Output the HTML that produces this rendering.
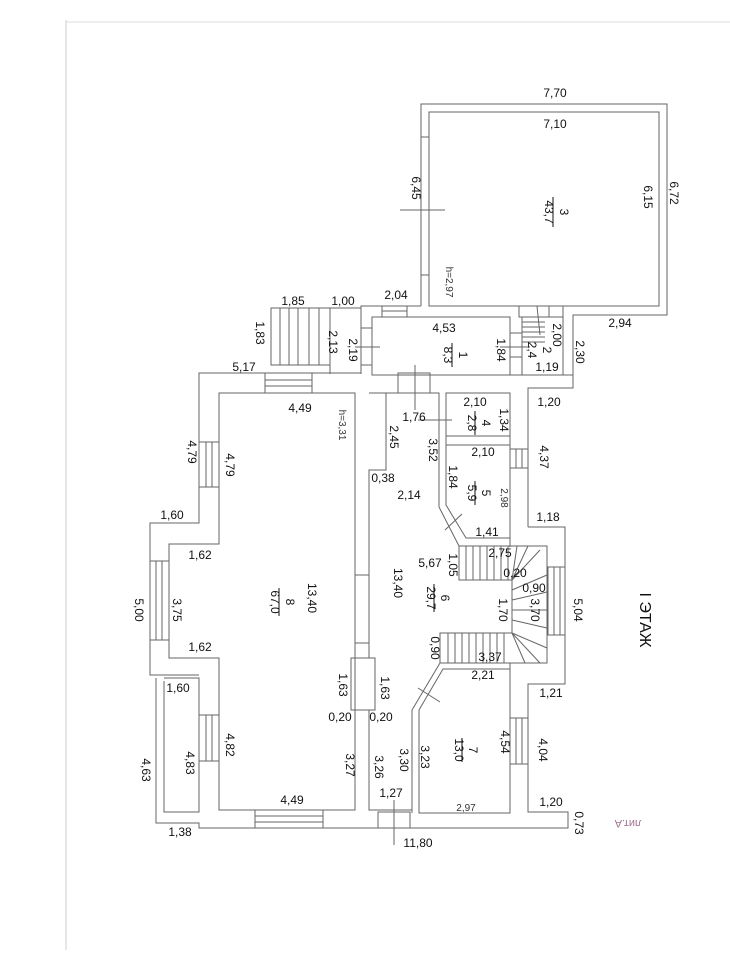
<!DOCTYPE html>
<html><head><meta charset="utf-8"><style>
html,body{margin:0;padding:0;background:#fff;}
svg{display:block;}
text{font-family:"Liberation Sans",sans-serif;font-size:12px;fill:#111;}
.s{font-size:10px;fill:#333;}
</style></head><body>
<svg width="730" height="960" viewBox="0 0 730 960" xmlns="http://www.w3.org/2000/svg">
<g fill="none" stroke="#666" stroke-width="1">
<line x1="66" y1="20" x2="66" y2="950" stroke="#ccc"/>
<line x1="66" y1="22" x2="730" y2="22" stroke="#ddd"/>
<!-- room 3 -->
<path d="M421,306 L421,104 L667,104 L667,315 L573,315 L573,388 L528,388 L528,527"/>
<rect x="429" y="112" width="230" height="194"/>
<line x1="421" y1="137" x2="429" y2="137"/><line x1="421" y1="275" x2="429" y2="275"/>
<line x1="400" y1="210" x2="445" y2="210"/>
<!-- block -->
<path d="M361,374 L361,306 L421,306"/>
<rect x="372" y="317" width="138" height="58"/>
<rect x="522" y="317" width="41" height="58"/>
<line x1="510" y1="375" x2="573" y2="375"/>
<line x1="563" y1="306" x2="563" y2="375"/>
<line x1="429" y1="306" x2="522" y2="306"/>
<rect x="382" y="306" width="25" height="11"/><line x1="382" y1="311" x2="407" y2="311"/>
<rect x="361" y="328" width="11" height="37"/><line x1="355" y1="347" x2="380" y2="347"/>
<rect x="510" y="333" width="12" height="24"/><line x1="500" y1="347" x2="530" y2="347"/>
<rect x="519" y="306" width="30" height="11"/>
<line x1="522" y1="322" x2="545" y2="322"/><line x1="522" y1="327" x2="545" y2="327"/><line x1="522" y1="332" x2="545" y2="332"/><line x1="522" y1="337" x2="545" y2="337"/><line x1="522" y1="342" x2="545" y2="342"/>
<line x1="537" y1="306" x2="540" y2="335"/>
<!-- porch -->
<rect x="271" y="308" width="59" height="57"/>
<line x1="280" y1="308" x2="280" y2="365"/><line x1="289" y1="308" x2="289" y2="365"/><line x1="298" y1="308" x2="298" y2="365"/><line x1="309" y1="308" x2="309" y2="365"/><line x1="319" y1="308" x2="319" y2="365"/>
<path d="M330,308 L361,308 M330,365 L330,374"/>
<!-- main outer -->
<path d="M361,373 L199,373 L199,523 L150,523 L150,675 L199,675"/>
<path d="M156,678 L156,823 L199,823 L199,828 L568,828 L568,812 L528,812 L528,684 L565,684 L565,527 L528,527"/>
<path d="M164,681 L164,812 L199,812 L199,678 L164,678"/>
<rect x="265" y="373" width="47" height="20"/><line x1="265" y1="380" x2="312" y2="380"/><line x1="265" y1="386" x2="312" y2="386"/>
<rect x="398" y="373" width="32" height="20"/><line x1="415" y1="365" x2="415" y2="410"/>
<!-- room 8 -->
<path d="M219,393 L355,393 L355,810 L219,810 L219,658 L169,658 L169,544 L219,544 Z"/>
<path d="M369,393 L386,393 L386,470 L369,470 L369,658 M369,710 L369,810 L412,810"/>
<line x1="355" y1="575" x2="369" y2="575"/><line x1="355" y1="643" x2="369" y2="643"/>
<rect x="351" y="658" width="24" height="52"/>
<!-- left windows -->
<rect x="199" y="442" width="20" height="45"/><line x1="206" y1="442" x2="206" y2="487"/><line x1="212" y1="442" x2="212" y2="487"/>
<rect x="150" y="561" width="19" height="79"/><line x1="156" y1="561" x2="156" y2="640"/><line x1="162" y1="561" x2="162" y2="640"/>
<rect x="199" y="715" width="20" height="46"/><line x1="206" y1="715" x2="206" y2="761"/><line x1="212" y1="715" x2="212" y2="761"/>
<rect x="255" y="810" width="68" height="18"/><line x1="255" y1="816" x2="323" y2="816"/><line x1="255" y1="822" x2="323" y2="822"/>
<rect x="378" y="812" width="32" height="16"/><line x1="394" y1="800" x2="394" y2="845"/>
<!-- right windows -->
<rect x="510" y="449" width="18" height="19"/><line x1="516" y1="449" x2="516" y2="468"/><line x1="522" y1="449" x2="522" y2="468"/>
<rect x="548" y="567" width="17" height="68"/><line x1="554" y1="567" x2="554" y2="635"/><line x1="560" y1="567" x2="560" y2="635"/>
<rect x="510" y="718" width="18" height="46"/><line x1="516" y1="718" x2="516" y2="764"/><line x1="522" y1="718" x2="522" y2="764"/>
<!-- rooms 4,5 -->
<rect x="446" y="393" width="64" height="43"/>
<line x1="446" y1="445" x2="510" y2="445"/>
<line x1="510" y1="393" x2="510" y2="547"/>
<path d="M446,436 L446,505 L466,538 L510,538"/>
<path d="M386,393 L439,393 L439,507 L459,546"/>
<line x1="439" y1="420" x2="452" y2="420"/><line x1="418" y1="420" x2="446" y2="420"/>
<line x1="445" y1="530" x2="462" y2="514"/>
<!-- stairs -->
<path d="M459,546 L547,546 L547,663 L440,663 L440,633 L512,633 L512,580 L459,580 Z"/>
<line x1="459" y1="580" x2="459" y2="546"/>
<line x1="466" y1="546" x2="466" y2="580"/><line x1="473" y1="546" x2="473" y2="580"/><line x1="480" y1="546" x2="480" y2="580"/><line x1="487" y1="546" x2="487" y2="580"/><line x1="494" y1="546" x2="494" y2="580"/><line x1="501" y1="546" x2="501" y2="580"/><line x1="508" y1="546" x2="508" y2="580"/>
<line x1="512" y1="580" x2="517" y2="546"/><line x1="512" y1="580" x2="528" y2="546"/><line x1="512" y1="580" x2="540" y2="550"/>
<line x1="512" y1="590" x2="547" y2="575"/><line x1="512" y1="600" x2="547" y2="592"/><line x1="512" y1="610" x2="547" y2="610"/><line x1="512" y1="620" x2="547" y2="628"/><line x1="512" y1="633" x2="547" y2="648"/>
<line x1="512" y1="633" x2="540" y2="663"/><line x1="512" y1="633" x2="525" y2="663"/>
<line x1="448" y1="633" x2="448" y2="663"/><line x1="455" y1="633" x2="455" y2="663"/><line x1="462" y1="633" x2="462" y2="663"/><line x1="469" y1="633" x2="469" y2="663"/><line x1="476" y1="633" x2="476" y2="663"/><line x1="483" y1="633" x2="483" y2="663"/><line x1="490" y1="633" x2="490" y2="663"/><line x1="497" y1="633" x2="497" y2="663"/><line x1="504" y1="633" x2="504" y2="663"/>
<!-- room 7 -->
<path d="M443,669 L510,669 L510,813 L419,813 L419,710 Z"/>
<path d="M440,663 L412,710 L412,813"/>
<line x1="510" y1="663" x2="510" y2="669"/>
<line x1="418" y1="688" x2="440" y2="702"/>
</g>
<g>
<text x="555" y="97" text-anchor="middle">7,70</text>
<text x="555" y="128" text-anchor="middle">7,10</text>
<text transform="translate(412,188) rotate(90)" text-anchor="middle">6,45</text>
<text transform="translate(560,212) rotate(90)" text-anchor="middle">3</text>
<text transform="translate(545,212) rotate(90)" text-anchor="middle">43,7</text>
<line x1="553" y1="197" x2="553" y2="227" stroke="#111"/>
<text transform="translate(644,197) rotate(90)" text-anchor="middle">6,15</text>
<text transform="translate(670,193) rotate(90)" text-anchor="middle">6,72</text>
<text class="s" transform="translate(446,282) rotate(90)" text-anchor="middle">h=2,97</text>
<text x="396" y="299" text-anchor="middle">2,04</text>
<text x="293" y="305" text-anchor="middle">1,85</text>
<text x="343" y="305" text-anchor="middle">1,00</text>
<text transform="translate(256,333) rotate(90)" text-anchor="middle">1,83</text>
<text transform="translate(329,342) rotate(90)" text-anchor="middle">2,13</text>
<text transform="translate(349,350) rotate(90)" text-anchor="middle">2,19</text>
<text x="444" y="332" text-anchor="middle">4,53</text>
<text transform="translate(459,355) rotate(90)" text-anchor="middle">1</text>
<text transform="translate(444,355) rotate(90)" text-anchor="middle">8,3</text>
<line x1="452" y1="343" x2="452" y2="367" stroke="#111"/>
<text transform="translate(497,350) rotate(90)" text-anchor="middle">1,84</text>
<text transform="translate(553,335) rotate(90)" text-anchor="middle">2,00</text>
<text transform="translate(543,350) rotate(90)" text-anchor="middle">2</text>
<text transform="translate(528,350) rotate(90)" text-anchor="middle">2,4</text>
<text x="547" y="371" text-anchor="middle">1,19</text>
<text x="620" y="327" text-anchor="middle">2,94</text>
<text transform="translate(576,352) rotate(90)" text-anchor="middle">2,30</text>
<text x="244" y="371" text-anchor="middle">5,17</text>
<text x="549" y="406" text-anchor="middle">1,20</text>
<text x="300" y="412" text-anchor="middle">4,49</text>
<text class="s" transform="translate(339,425) rotate(90)" text-anchor="middle">h=3,31</text>
<text x="414" y="421" text-anchor="middle">1,76</text>
<text x="475" y="406" text-anchor="middle">2,10</text>
<text transform="translate(482,423) rotate(90)" text-anchor="middle">4</text>
<text transform="translate(468,423) rotate(90)" text-anchor="middle">2,8</text>
<line x1="475" y1="411" x2="475" y2="435" stroke="#111"/>
<text transform="translate(500,420) rotate(90)" text-anchor="middle">1,34</text>
<text transform="translate(188,452) rotate(90)" text-anchor="middle">4,79</text>
<text transform="translate(226,465) rotate(90)" text-anchor="middle">4,79</text>
<text transform="translate(390,437) rotate(90)" text-anchor="middle">2,45</text>
<text transform="translate(429,450) rotate(90)" text-anchor="middle">3,52</text>
<text x="483" y="456" text-anchor="middle">2,10</text>
<text transform="translate(540,457) rotate(90)" text-anchor="middle">4,37</text>
<text x="383" y="482" text-anchor="middle">0,38</text>
<text transform="translate(449,477) rotate(90)" text-anchor="middle">1,84</text>
<text x="409" y="499" text-anchor="middle">2,14</text>
<text transform="translate(482,493) rotate(90)" text-anchor="middle">5</text>
<text transform="translate(468,493) rotate(90)" text-anchor="middle">5,9</text>
<line x1="475" y1="481" x2="475" y2="505" stroke="#111"/>
<text class="s" transform="translate(501,498) rotate(90)" text-anchor="middle">2,98</text>
<text x="172" y="519" text-anchor="middle">1,60</text>
<text x="548" y="521" text-anchor="middle">1,18</text>
<text x="487" y="536" text-anchor="middle">1,41</text>
<text x="200" y="559" text-anchor="middle">1,62</text>
<text x="500" y="557" text-anchor="middle">2,75</text>
<text x="430" y="567" text-anchor="middle">5,67</text>
<text transform="translate(449,565) rotate(90)" text-anchor="middle">1,05</text>
<text x="515" y="577" text-anchor="middle">0,20</text>
<text x="534" y="592" text-anchor="middle">0,90</text>
<text transform="translate(135,610) rotate(90)" text-anchor="middle">5,00</text>
<text transform="translate(173,610) rotate(90)" text-anchor="middle">3,75</text>
<text transform="translate(308,598) rotate(90)" text-anchor="middle">13,40</text>
<text transform="translate(286,602) rotate(90)" text-anchor="middle">8</text>
<text transform="translate(271,602) rotate(90)" text-anchor="middle">67,0</text>
<line x1="279" y1="588" x2="279" y2="616" stroke="#111"/>
<text transform="translate(394,583) rotate(90)" text-anchor="middle">13,40</text>
<text transform="translate(441,598) rotate(90)" text-anchor="middle">6</text>
<text transform="translate(427,598) rotate(90)" text-anchor="middle">29,7</text>
<line x1="434" y1="584" x2="434" y2="612" stroke="#111"/>
<text transform="translate(499,610) rotate(90)" text-anchor="middle">1,70</text>
<text transform="translate(531,610) rotate(90)" text-anchor="middle">3,70</text>
<text transform="translate(574,610) rotate(90)" text-anchor="middle">5,04</text>
<text transform="translate(640,620) rotate(90)" text-anchor="middle" style="font-size:16px">I ЭТАЖ</text>
<text x="200" y="651" text-anchor="middle">1,62</text>
<text transform="translate(431,648) rotate(90)" text-anchor="middle">0,90</text>
<text x="490" y="661" text-anchor="middle">3,37</text>
<text x="483" y="679" text-anchor="middle">2,21</text>
<text x="178" y="692" text-anchor="middle">1,60</text>
<text x="551" y="697" text-anchor="middle">1,21</text>
<text transform="translate(339,685) rotate(90)" text-anchor="middle">1,63</text>
<text transform="translate(381,688) rotate(90)" text-anchor="middle">1,63</text>
<text x="340" y="721" text-anchor="middle">0,20</text>
<text x="381" y="721" text-anchor="middle">0,20</text>
<text transform="translate(501,742) rotate(90)" text-anchor="middle">4,54</text>
<text transform="translate(469,750) rotate(90)" text-anchor="middle">7</text>
<text transform="translate(455,750) rotate(90)" text-anchor="middle">13,0</text>
<line x1="462" y1="738" x2="462" y2="762" stroke="#111"/>
<text transform="translate(226,745) rotate(90)" text-anchor="middle">4,82</text>
<text transform="translate(186,763) rotate(90)" text-anchor="middle">4,83</text>
<text transform="translate(539,750) rotate(90)" text-anchor="middle">4,04</text>
<text transform="translate(142,770) rotate(90)" text-anchor="middle">4,63</text>
<text transform="translate(346,765) rotate(90)" text-anchor="middle">3,27</text>
<text transform="translate(375,767) rotate(90)" text-anchor="middle">3,26</text>
<text transform="translate(400,760) rotate(90)" text-anchor="middle">3,30</text>
<text transform="translate(421,757) rotate(90)" text-anchor="middle">3,23</text>
<text x="391" y="797" text-anchor="middle">1,27</text>
<text x="292" y="804" text-anchor="middle">4,49</text>
<text class="s" x="466" y="811" text-anchor="middle">2,97</text>
<text x="551" y="806" text-anchor="middle">1,20</text>
<text transform="translate(575,823) rotate(90)" text-anchor="middle">0,73</text>
<text x="180" y="836" text-anchor="middle">1,38</text>
<text x="418" y="847" text-anchor="middle">11,80</text>
<text transform="translate(628,820) rotate(180)" text-anchor="middle" style="font-size:11px;fill:#a07090">лит.А</text>
</g>
</svg>
</body></html>
